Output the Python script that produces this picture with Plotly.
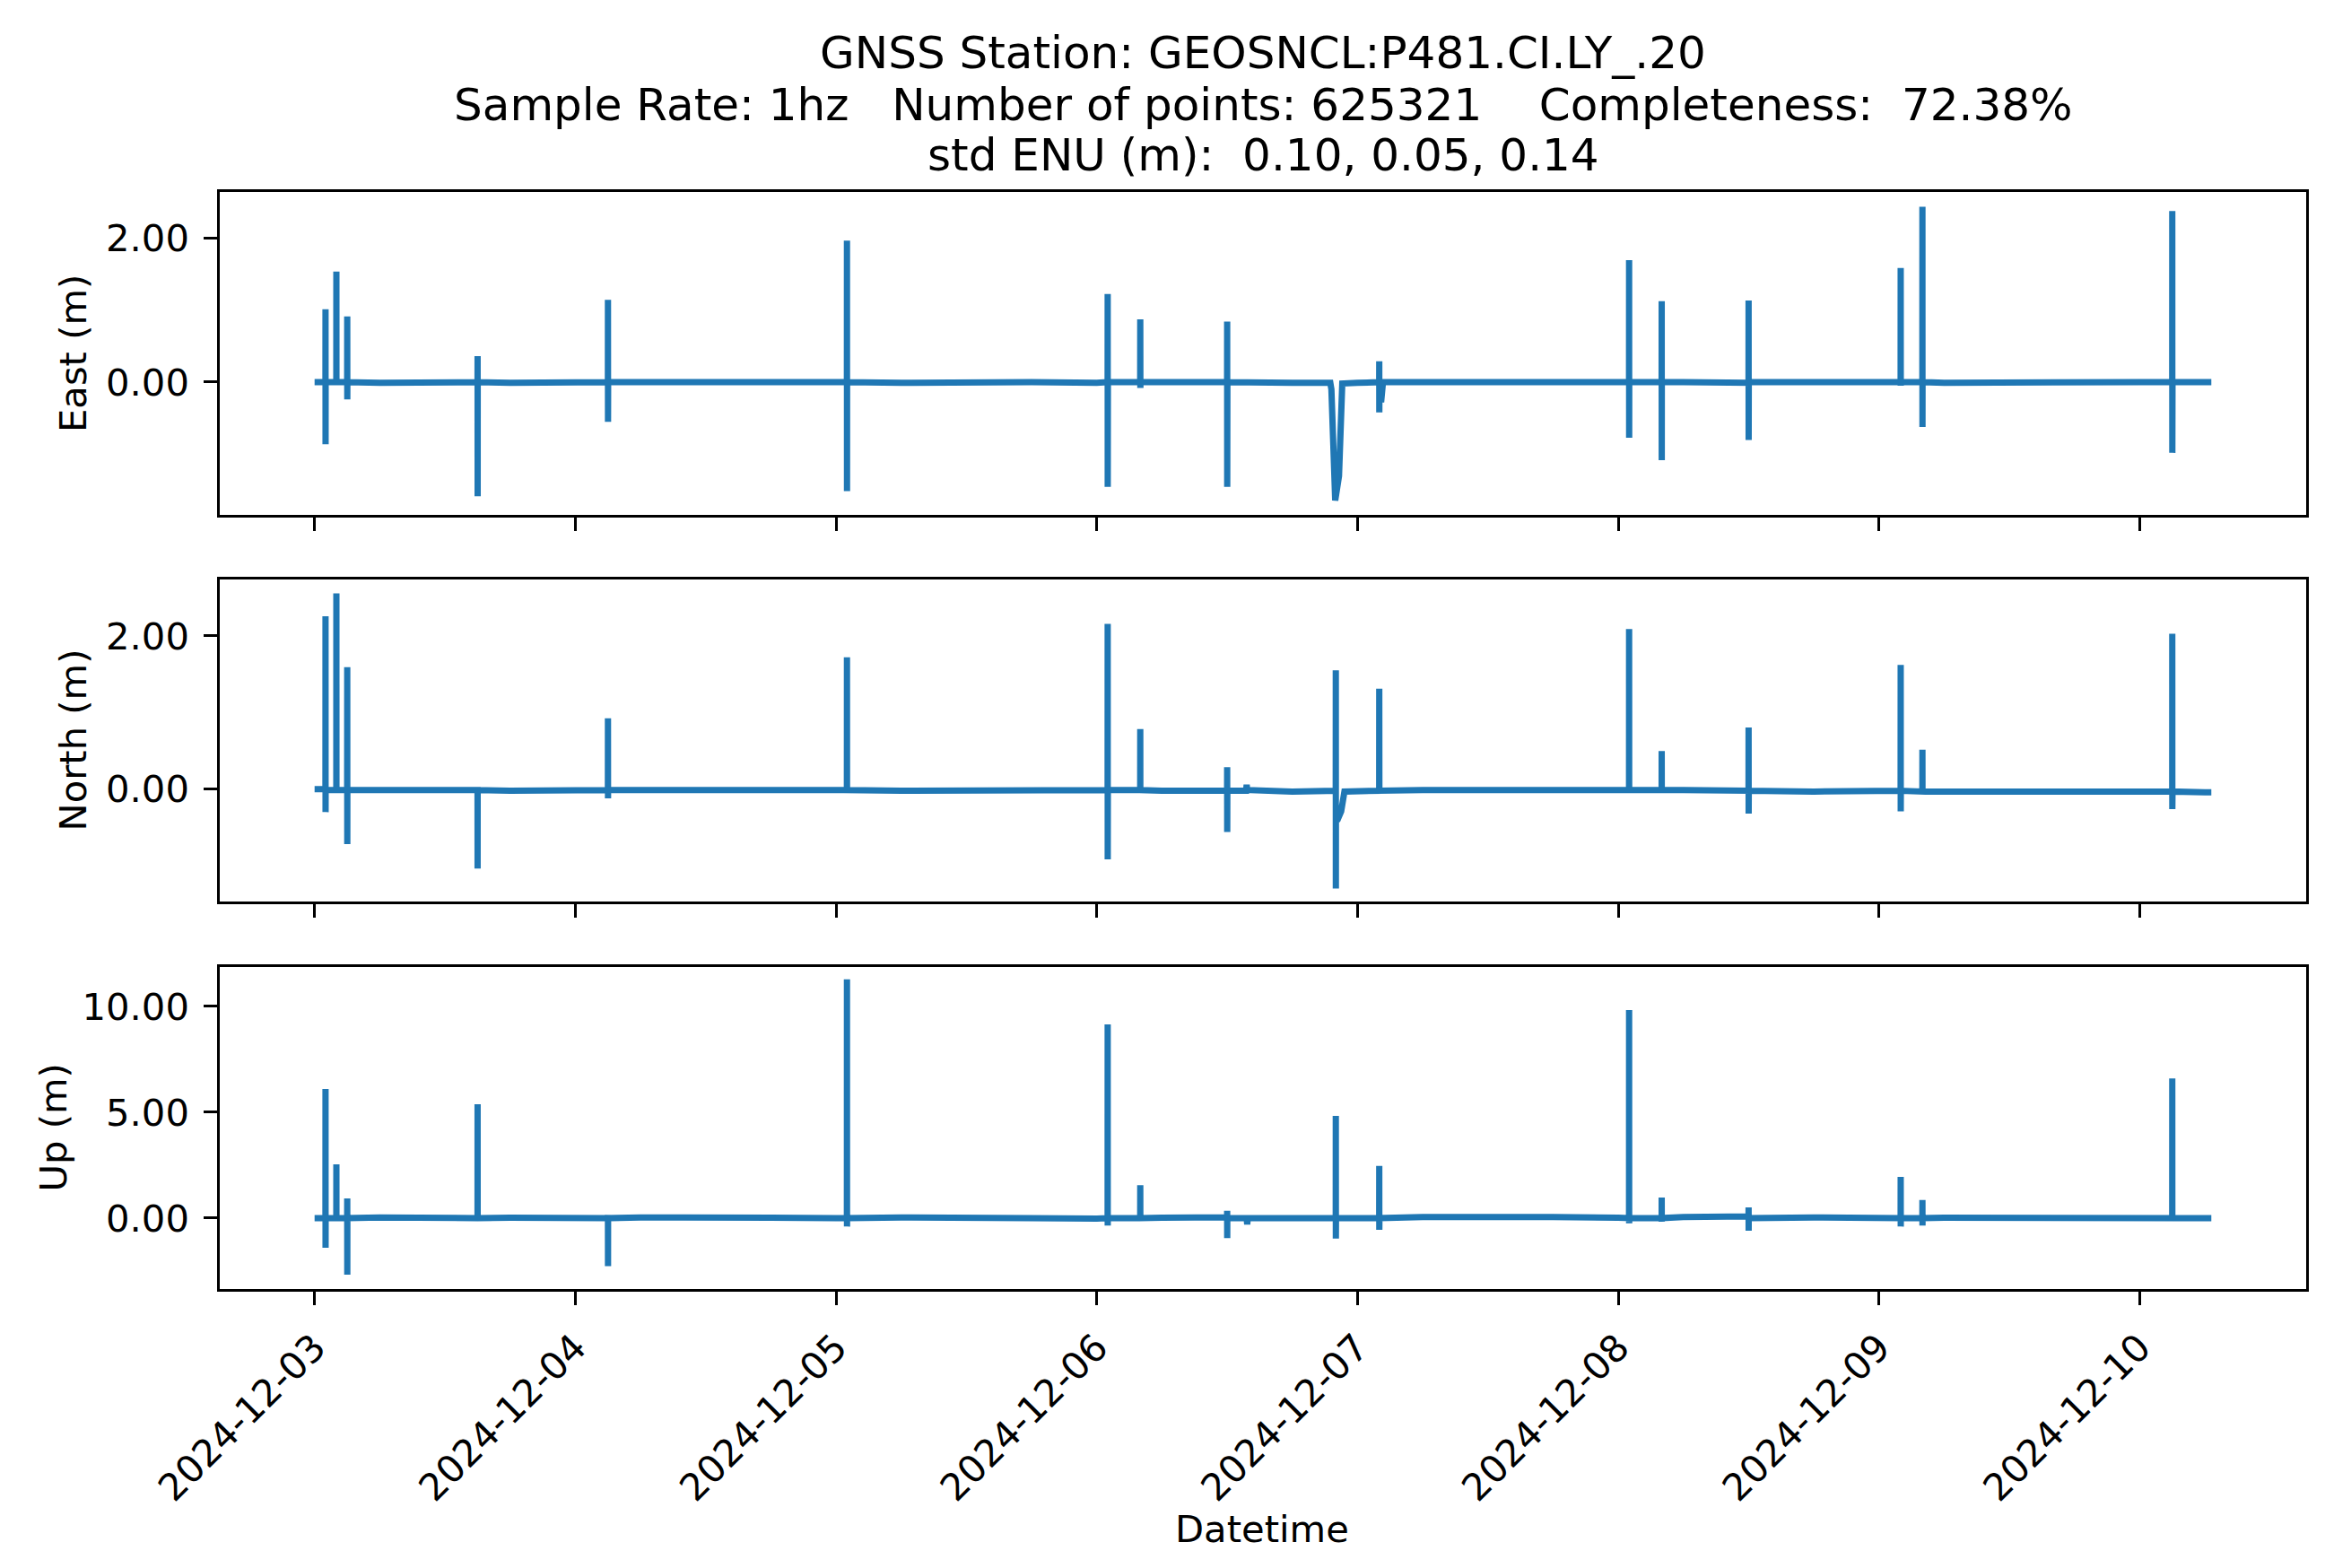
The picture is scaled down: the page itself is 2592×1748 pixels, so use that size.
import plotly.graph_objects as go
from datetime import datetime, timedelta

# ---------------- data ----------------
START = datetime(2024, 12, 3, 0, 0, 0)
END_HOURS = 174.6  # last sample, hours after START

base_hours = [0, 6, 12, 18, 24, 30, 36, 42, 48, 54, 60, 66, 72, 78, 84, 90, 96,
              102, 108, 114, 120, 126, 132, 138, 144, 150, 156, 162, 168, 174, 174.6]
east_base = [0.00, -0.01, 0.00, -0.01, 0.00, 0.00, -0.01, 0.00, 0.00, -0.01, 0.00,
             0.00, -0.01, 0.00, 0.00, -0.01, -0.01, 0.00, 0.00, -0.01, 0.00, 0.00,
             -0.01, 0.00, 0.00, -0.01, 0.00, -0.01, 0.00, 0.00, 0.00]
north_base = [-0.01, -0.02, -0.02, -0.03, -0.02, -0.02, -0.03, -0.02, -0.02, -0.03,
              -0.03, -0.02, -0.02, -0.03, -0.03, -0.04, -0.03, -0.02, -0.03, -0.02,
              -0.02, -0.02, -0.03, -0.04, -0.03, -0.04, -0.04, -0.03, -0.04, -0.05, -0.05]
up_base = [0.00, 0.03, 0.05, 0.02, 0.00, 0.03, 0.05, 0.02, 0.00, 0.03, 0.05, 0.00,
           -0.02, 0.02, 0.04, 0.00, 0.00, 0.05, 0.08, 0.05, 0.02, 0.05, 0.08, 0.03,
           0.00, 0.02, 0.03, 0.00, 0.00, 0.00, 0.00]

# spike events: hour of event and successive sample values (m)
east_spike_hours = [1.0, 2.0, 3.0, 15.0, 27.0, 49.0, 73.0, 76.0, 84.0, 98.0,
                    121.0, 124.0, 132.0, 146.0, 148.0, 171.0]
east_spikes = [
    [0.0, 1.01, -0.86, 0.0],
    [0.0, 1.53, 0.0],
    [0.0, 0.91, -0.24, 0.0],
    [0.0, 0.36, -1.58, 0.0],
    [0.0, 1.14, -0.55, -0.20, 0.0],
    [0.0, 1.96, -1.51, 0.0],
    [0.0, 1.22, -1.45, 1.05, -0.40, 0.0],
    [0.0, 0.87, 0.60, -0.08, 0.0],
    [0.0, 0.84, -1.45, -0.25, -0.15, 0.0],
    [0.0, 0.29, -0.42, -0.24],
    [0.0, 1.69, -0.77, 0.0],
    [0.0, 1.12, -1.08, 0.0],
    [0.0, 1.13, -0.80, -0.20, 0.0],
    [0.0, 1.58, -0.05, 0.0],
    [0.0, 2.43, -0.62, 0.0],
    [0.0, 2.37, -0.98, -0.60, -0.30, 0.0],
]
north_spike_hours = [1.0, 2.0, 3.0, 15.0, 27.0, 49.0, 73.0, 76.0, 84.0, 94.0, 98.0,
                     121.0, 124.0, 132.0, 146.0, 148.0, 171.0]
north_spikes = [
    [-0.01, 2.26, -0.31, -0.02],
    [-0.02, 2.56, -0.02],
    [-0.02, 1.59, -0.73, -0.02],
    [-0.02, -1.05, -0.02],
    [-0.02, 0.92, -0.13, -0.02],
    [-0.02, 1.72, -0.02],
    [-0.02, 2.16, -0.93, 0.30, -0.02],
    [-0.02, 0.78, -0.02],
    [-0.02, 0.28, -0.57, -0.20, -0.03],
    [-0.03, 1.55, -1.31, -0.40],
    [-0.03, 1.31, 0.05, -0.03],
    [-0.02, 2.09, -0.02],
    [-0.02, 0.49, -0.02],
    [-0.03, 0.80, -0.33, -0.15, -0.03],
    [-0.03, 1.62, -0.30, -0.03],
    [-0.04, 0.51, -0.04],
    [-0.04, 2.03, -0.27, 1.10, -0.20, -0.04],
]
up_spike_hours = [1.0, 2.0, 3.0, 15.0, 27.0, 49.0, 73.0, 76.0, 84.0, 94.0, 98.0,
                  121.0, 124.0, 132.0, 146.0, 148.0, 171.0]
up_spikes = [
    [0.0, 6.10, -1.40, 0.0],
    [0.0, 2.54, 0.0],
    [0.0, 0.93, -2.67, 0.0],
    [0.0, 5.38, 0.0],
    [0.0, 0.15, -2.27, 0.0],
    [0.0, 11.28, -0.40, 0.0],
    [0.0, 9.15, -0.35, 0.0],
    [0.0, 1.55, 0.0],
    [0.0, 0.35, -0.95, 0.0],
    [0.0, 4.83, -0.97, -0.60, 0.0],
    [0.0, 2.46, -0.55, -0.30, 0.0],
    [0.0, 9.83, -0.25, 0.0],
    [0.0, 0.97, -0.17, 0.0],
    [0.0, 0.50, -0.60, 0.0],
    [0.0, 1.95, -0.40, 0.0],
    [0.0, 0.85, -0.35, 0.0],
    [0.0, 6.60, -0.10, 0.0],
]
SPIKE_STEP_H = 0.005  # hours between successive spike samples

# slower excursions (hour, value)
east_extra_hours = [93.50, 93.60, 93.95, 94.30, 94.45, 94.60, 98.20, 98.35]
east_extra_vals = [-0.01, -0.10, -1.64, -1.30, -0.43, -0.02, -0.24, 0.00]
north_extra_hours = [94.20, 94.50, 94.80, 85.75, 85.80, 85.85]
north_extra_vals = [-0.40, -0.30, -0.04, -0.03, 0.05, -0.02]
up_extra_hours = [85.80, 85.85, 85.90]
up_extra_vals = [0.00, -0.30, 0.00]

ylabels = ["East (m)", "North (m)", "Up (m)"]
ytickvals = [[0, 2], [0, 2], [0, 5, 10]]
yranges = [[-1.839, 2.634], [-1.482, 2.741], [-3.35, 11.86]]
xtick_dates = ["2024-12-03", "2024-12-04", "2024-12-05", "2024-12-06",
               "2024-12-07", "2024-12-08", "2024-12-09", "2024-12-10"]

title_lines = [
    "GNSS Station: GEOSNCL:P481.CI.LY_.20",
    "Sample Rate: 1hz\u00a0\u00a0\u00a0Number of points: 625321\u00a0\u00a0\u00a0\u00a0Completeness:\u00a0\u00a072.38%",
    "std ENU (m):\u00a0\u00a00.10, 0.05, 0.14",
]


def build(base_v, sp_hours, spikes, ex_h, ex_v):
    pts = list(zip(base_hours, base_v))
    for h, vals in zip(sp_hours, spikes):
        for k, v in enumerate(vals):
            pts.append((h + k * SPIKE_STEP_H, v))
    pts += list(zip(ex_h, ex_v))
    pts.sort(key=lambda p: p[0])
    xs = [START + timedelta(hours=p[0]) for p in pts]
    ys = [p[1] for p in pts]
    return xs, ys


series = [
    build(east_base, east_spike_hours, east_spikes, east_extra_hours, east_extra_vals),
    build(north_base, north_spike_hours, north_spikes, north_extra_hours, north_extra_vals),
    build(up_base, up_spike_hours, up_spikes, up_extra_hours, up_extra_vals),
]

# ---------------- layout ----------------
W, H = 2592, 1748
PL, PR, PT, PB = 237, 2563, 206, 1429
ph = PB - PT
pw = PR - PL
panel_px = [(206, 566), (638, 997), (1070, 1429)]


def py(ypx):
    return (PB - ypx) / ph


def pxx(xpx):
    return (xpx - PL) / pw


FONT = "DejaVu Sans"
TICK_SIZE = 41.7
TITLE_SIZE = 50
BLUE = "#1f77b4"

fig = go.Figure()
for i, (xs, ys) in enumerate(series):
    fig.add_trace(go.Scatter(
        x=xs, y=ys, mode="lines",
        line=dict(color=BLUE, width=7),
        xaxis="x" if i == 0 else f"x{i+1}",
        yaxis="y" if i == 0 else f"y{i+1}",
        showlegend=False, hoverinfo="skip",
    ))

span = timedelta(hours=END_HOURS)
xr = [START - span * 0.05, START + span * 1.05]

common_axis = dict(
    showline=True, linecolor="black", linewidth=3.3, mirror=True,
    ticks="outside", ticklen=14.6, tickwidth=3.3, tickcolor="black",
    showgrid=False, zeroline=False,
    tickfont=dict(family=FONT, size=TICK_SIZE, color="black"),
)

lay = dict(
    width=W, height=H,
    margin=dict(l=PL, r=W - PR, t=PT, b=H - PB, autoexpand=False),
    paper_bgcolor="white", plot_bgcolor="white",
    showlegend=False,
)
for i in range(3):
    sfx = "" if i == 0 else str(i + 1)
    top, bot = panel_px[i]
    lay["xaxis" + sfx] = dict(
        common_axis, type="date", range=xr,
        tickvals=xtick_dates, tickformat="%Y-%m-%d", tickangle=-45,
        showticklabels=(i == 2), anchor="y" + sfx,
        matches=None if i == 2 else "x3",
        ticklabelstandoff=6,
    )
    lay["yaxis" + sfx] = dict(
        common_axis, range=yranges[i], tickvals=ytickvals[i], tickformat=".2f",
        domain=[py(bot), py(top)], anchor="x" + sfx,
        ticklabelstandoff=8,
    )
fig.update_layout(**lay)

annotations = []
title_centers = [51.0, 109.4, 165.4]
for txt, yc in zip(title_lines, title_centers):
    annotations.append(dict(
        text=txt, xref="paper", yref="paper", x=0.5, y=py(yc),
        xanchor="center", yanchor="middle", showarrow=False,
        font=dict(family=FONT, size=TITLE_SIZE, color="black"),
    ))
ylabel_x = [73, 73, 51]
for i, lab in enumerate(ylabels):
    top, bot = panel_px[i]
    annotations.append(dict(
        text=lab, xref="paper", yref="paper", x=pxx(ylabel_x[i]), y=py((top + bot) / 2),
        xanchor="center", yanchor="middle", showarrow=False, textangle=-90,
        font=dict(family=FONT, size=TICK_SIZE, color="black"),
    ))
annotations.append(dict(
    text="Datetime", xref="paper", yref="paper", x=pxx(1399), y=py(1696),
    xanchor="center", yanchor="middle", showarrow=False,
    font=dict(family=FONT, size=TICK_SIZE, color="black"),
))
fig.update_layout(annotations=annotations)

fig.write_html("out.html")
